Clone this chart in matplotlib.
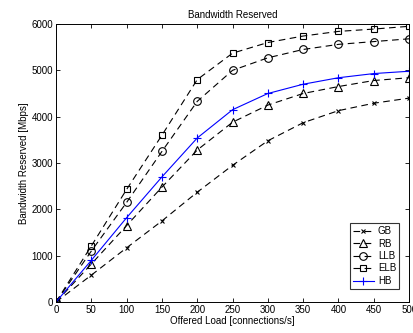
import matplotlib
matplotlib.use('Agg')
import matplotlib.pyplot as plt

plt.rcParams['font.family'] = ['Liberation Sans', 'DejaVu Sans']

# offered load (connections/s)
load = [0, 50, 100, 150, 200, 250, 300, 350, 400, 450, 500]
# bandwidth reserved (Mbps)
gb = [0, 580, 1170, 1750, 2370, 2950, 3480, 3870, 4130, 4290, 4400]
rb = [0, 820, 1650, 2480, 3280, 3880, 4250, 4500, 4650, 4780, 4840]
llb = [0, 1100, 2150, 3250, 4330, 5000, 5270, 5450, 5560, 5620, 5680]
elb = [0, 1210, 2430, 3600, 4800, 5370, 5600, 5740, 5840, 5890, 5950]
hb = [0, 900, 1820, 2700, 3540, 4150, 4500, 4700, 4840, 4930, 4980]

fig = plt.figure(figsize=(4.13, 3.33), dpi=100)
ax = fig.add_axes([0.1356, 0.093, 0.855, 0.835])

dash = (0, (6, 4))
ax.plot(load, gb, color='black', linestyle=dash, linewidth=0.8, marker='x', markersize=3, markeredgewidth=0.8, label='GB')
ax.plot(load, rb, color='black', linestyle=dash, linewidth=0.8, marker='^', markersize=5.5, markerfacecolor='none', markeredgewidth=0.8, label='RB')
ax.plot(load, llb, color='black', linestyle=dash, linewidth=0.8, marker='o', markersize=5.5, markerfacecolor='none', markeredgewidth=0.8, label='LLB')
ax.plot(load, elb, color='black', linestyle=dash, linewidth=0.8, marker='s', markersize=5, markerfacecolor='none', markeredgewidth=0.8, label='ELB')
ax.plot(load, hb, color='blue', linestyle='-', linewidth=0.8, marker='+', markersize=6, markeredgewidth=0.8, label='HB')

ax.set_xlim(0, 500)
ax.set_ylim(0, 6000)
ax.set_xticks(range(0, 501, 50))
ax.set_yticks(range(0, 6001, 1000))
ax.tick_params(direction='in', top=True, right=True, labelsize=7, length=3, width=0.6, pad=2)
for s in ax.spines.values():
    s.set_linewidth(0.7)

ax.set_title('Bandwidth Reserved', fontsize=7, pad=4)
ax.set_xlabel('Offered Load [connections/s]', fontsize=7, labelpad=1)
ax.set_ylabel('Bandwidth Reserved [Mbps]', fontsize=7, labelpad=2)

leg = ax.legend(loc='lower right', fontsize=7, frameon=True, fancybox=False, edgecolor='black',
                handlelength=2.2, handletextpad=0.4, borderpad=0.3, labelspacing=0.25,
                bbox_to_anchor=(0.985, 0.03))
leg.get_frame().set_linewidth(0.8)

fig.savefig('out.png', dpi=100)
